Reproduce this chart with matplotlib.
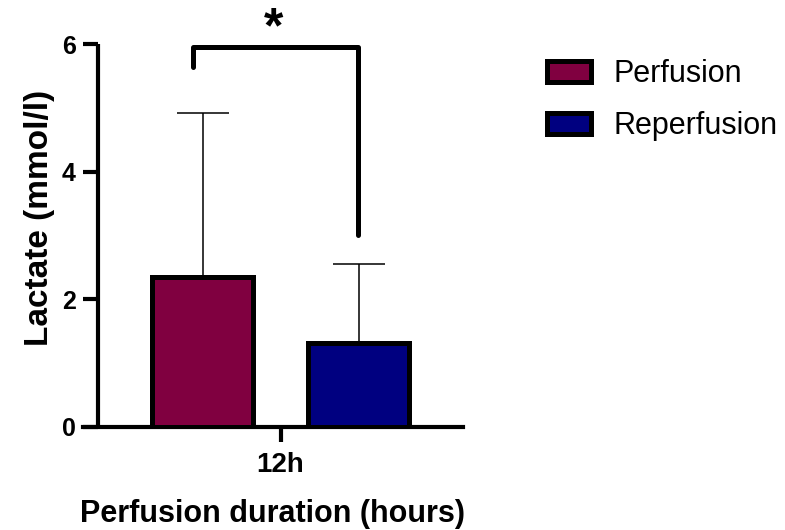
import matplotlib
matplotlib.use("Agg")
import matplotlib.pyplot as plt
import numpy as np
from matplotlib.patches import Patch

plt.rcParams['font.family'] = ['Liberation Sans', 'DejaVu Sans']

# data
groups = ["Perfusion", "Reperfusion"]
means = [2.35, 1.32]
sds = [2.57, 1.23]
colors = ["#800040", "#000080"]
category = "12h"
yticks = [0, 2, 4, 6]
sig_label = "*"

fig = plt.figure(figsize=(7.85, 5.3), dpi=100)
ax = fig.add_axes([83/785, (530-427)/530, (463-83)/785, (427-44)/530])

unit = 156.0
xleft = (83 - 280.5) / unit
xright = (463 - 280.5) / unit
yaxis_x = (98 - 280.5) / unit
ax.set_xlim(xleft, xright)
ax.set_ylim(0, 6)

pos = np.array([-0.5, 0.5])
width = 101 / unit
lw_edge = 3.6
ax.bar(pos, means, width=width, color=colors, edgecolor="black",
       linewidth=lw_edge, zorder=3)
ax.errorbar(pos, means, yerr=[[0, 0], sds], fmt="none", ecolor="black",
            elinewidth=1.1, capsize=19, capthick=1.1, zorder=2)

for s in ["top", "right"]:
    ax.spines[s].set_visible(False)
ax.spines["left"].set_position(("data", yaxis_x))
ax.spines["left"].set_linewidth(3.0)
ax.spines["bottom"].set_linewidth(3.0)
ax.spines["left"].set_capstyle("butt")

ax.set_yticks(yticks)
ax.set_yticklabels([str(t) for t in yticks], fontsize=18, fontweight="bold")
ax.set_xticks([0])
ax.set_xticklabels([category], fontsize=20, fontweight="bold")
ax.tick_params(axis="y", width=3.0, length=11, pad=5)
ax.tick_params(axis="x", width=3.0, length=11, pad=7)

ax.set_ylabel("Lactate (mmol/l)", fontsize=24, fontweight="bold")
ax.yaxis.set_label_coords((55 - 83) / 380, 0.546)
ax.set_xlabel("Perfusion duration (hours)", fontsize=22, fontweight="bold", labelpad=15)

# significance bracket
bx0 = pos[0] - 0.061
bx1 = pos[1] - 0.003
by_top = 5.95
by_left = 5.64
by_right = 3.01
ax.plot([bx0, bx0, bx1, bx1], [by_left, by_top, by_top, by_right],
        color="black", lw=3.6, solid_joinstyle="round", solid_capstyle="round",
        clip_on=False, zorder=4)
ax.text((bx0 + bx1) / 2 - 0.01, 6.03, sig_label, ha="center", va="baseline",
        fontsize=36, fontweight="bold", clip_on=False)

# legend
handles = [Patch(facecolor=c, edgecolor="black", linewidth=3.6, label=g)
           for c, g in zip(colors, groups)]
fig.legend(handles=handles, loc="upper left", bbox_to_anchor=(547/785, 1 - 59/530),
           frameon=False, fontsize=22, handlelength=1.44, handleheight=0.68,
           labelspacing=0.72, handletextpad=0.75, borderaxespad=0, borderpad=0)

fig.savefig("out.png", dpi=100)
